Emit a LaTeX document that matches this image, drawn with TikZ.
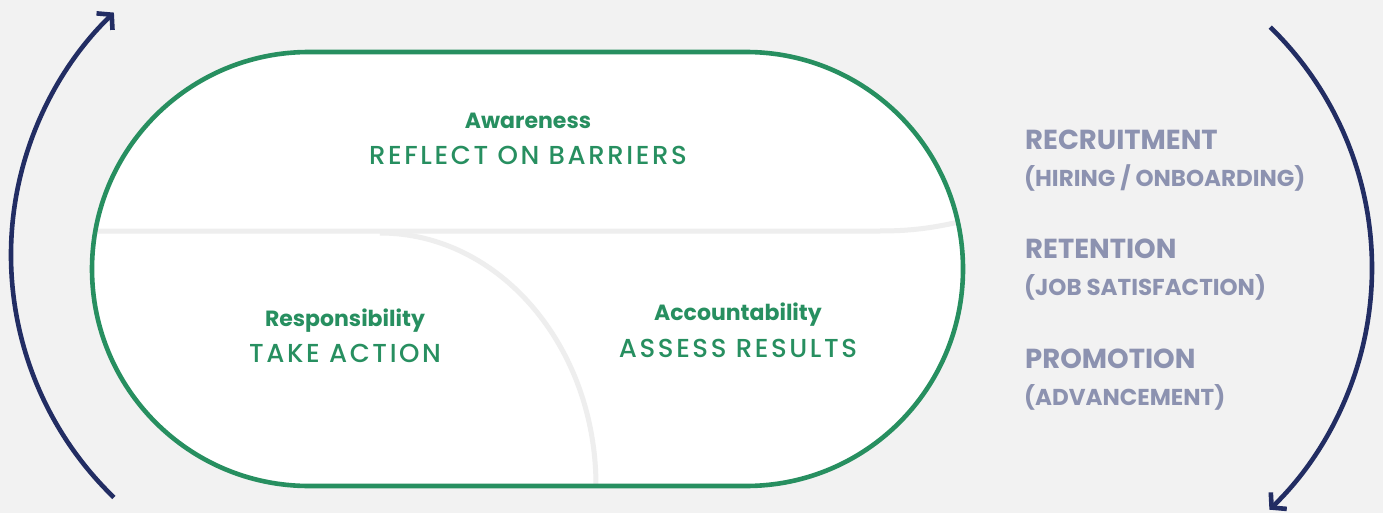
\documentclass[tikz,border=0pt]{standalone}
\usepackage{fontspec}
\setmainfont{Poppins}
\newfontfamily\actionfont{Poppins}[UprightFont=* Medium, LetterSpace=10]
\usetikzlibrary{arrows.meta}
\definecolor{bggrey}{RGB}{242,242,242}
\definecolor{divgrey}{RGB}{238,238,238}
\definecolor{loopgreen}{RGB}{39,143,96}
\definecolor{navy}{RGB}{34,45,99}
\definecolor{stagegrey}{RGB}{140,146,176}
\tikzset{
  cyclearrow/.style={navy, line width=4.6pt, -{Straight Barb[length=10pt, width=23pt]}},
  divider/.style={divgrey, line width=5pt},
  headword/.style={loopgreen, anchor=base, font=\fontsize{22}{26}\selectfont\bfseries},
  actionword/.style={loopgreen, anchor=base, font=\fontsize{26}{30}\actionfont},
  stagetitle/.style={stagegrey, anchor=base west, inner sep=0pt, font=\fontsize{27.5}{32}\selectfont\bfseries},
  stagenote/.style={stagegrey, anchor=base west, inner sep=0pt, font=\fontsize{23}{28}\selectfont\bfseries},
}
\begin{document}
\begin{tikzpicture}[x=1pt, y=1pt]
  % canvas
  \fill[bggrey] (0,0) rectangle (1383,-513);
  \useasboundingbox (0,0) rectangle (1383,-513);

  % stadium-shaped loop, white inside
  \fill[white] (309,-52) -- (746,-52) arc(90:-90:217) -- (309,-486) arc(270:90:217) -- cycle;

  % grey dividers between the three stages
  \begin{scope}
    \clip (309,-52) -- (746,-52) arc(90:-90:217) -- (309,-486) arc(270:90:217) -- cycle;
    \draw[divider] (80,-231) -- (880,-231) .. controls (915,-231) and (940,-227) .. (975,-218);
    \draw[divider] (380,-233) arc(90:0:216 and 253) -- (596,-500);
  \end{scope}

  % green outline
  \draw[loopgreen, line width=4.6pt] (309,-52) -- (746,-52) arc(90:-90:217) -- (309,-486) arc(270:90:217) -- cycle;

  % stage texts inside the loop
  \node[headword]   (aw)  at (528,-129) {Awareness};
  \node[actionword] (awa) at (528,-165) {REFLECT ON BARRIERS};
  \node[headword]   (re)  at (345,-326) {Responsibility};
  \node[actionword] (rea) at (345,-362) {TAKE ACTION};
  \node[headword]   (ac)  at (738,-320) {Accountability};
  \node[actionword] (aca) at (738,-357) {ASSESS RESULTS};

  % cycle arrows around the loop
  \draw[cyclearrow] (348,-255) ++(226:337) arc(226:134:337);
  \draw[cyclearrow] (1036,-268) ++(45.8:336) arc(45.8:-46:336);

  % career stages on the right
  \node[stagetitle] (rec)  at (1025,-150) {RECRUITMENT};
  \node[stagenote]  (recn) at (1024,-186) {(HIRING / ONBOARDING)};
  \node[stagetitle] (ret)  at (1025,-258) {RETENTION};
  \node[stagenote]  (retn) at (1024,-295) {(JOB SATISFACTION)};
  \node[stagetitle] (pro)  at (1025,-368) {PROMOTION};
  \node[stagenote]  (pron) at (1024,-405) {(ADVANCEMENT)};
\end{tikzpicture}
\end{document}
